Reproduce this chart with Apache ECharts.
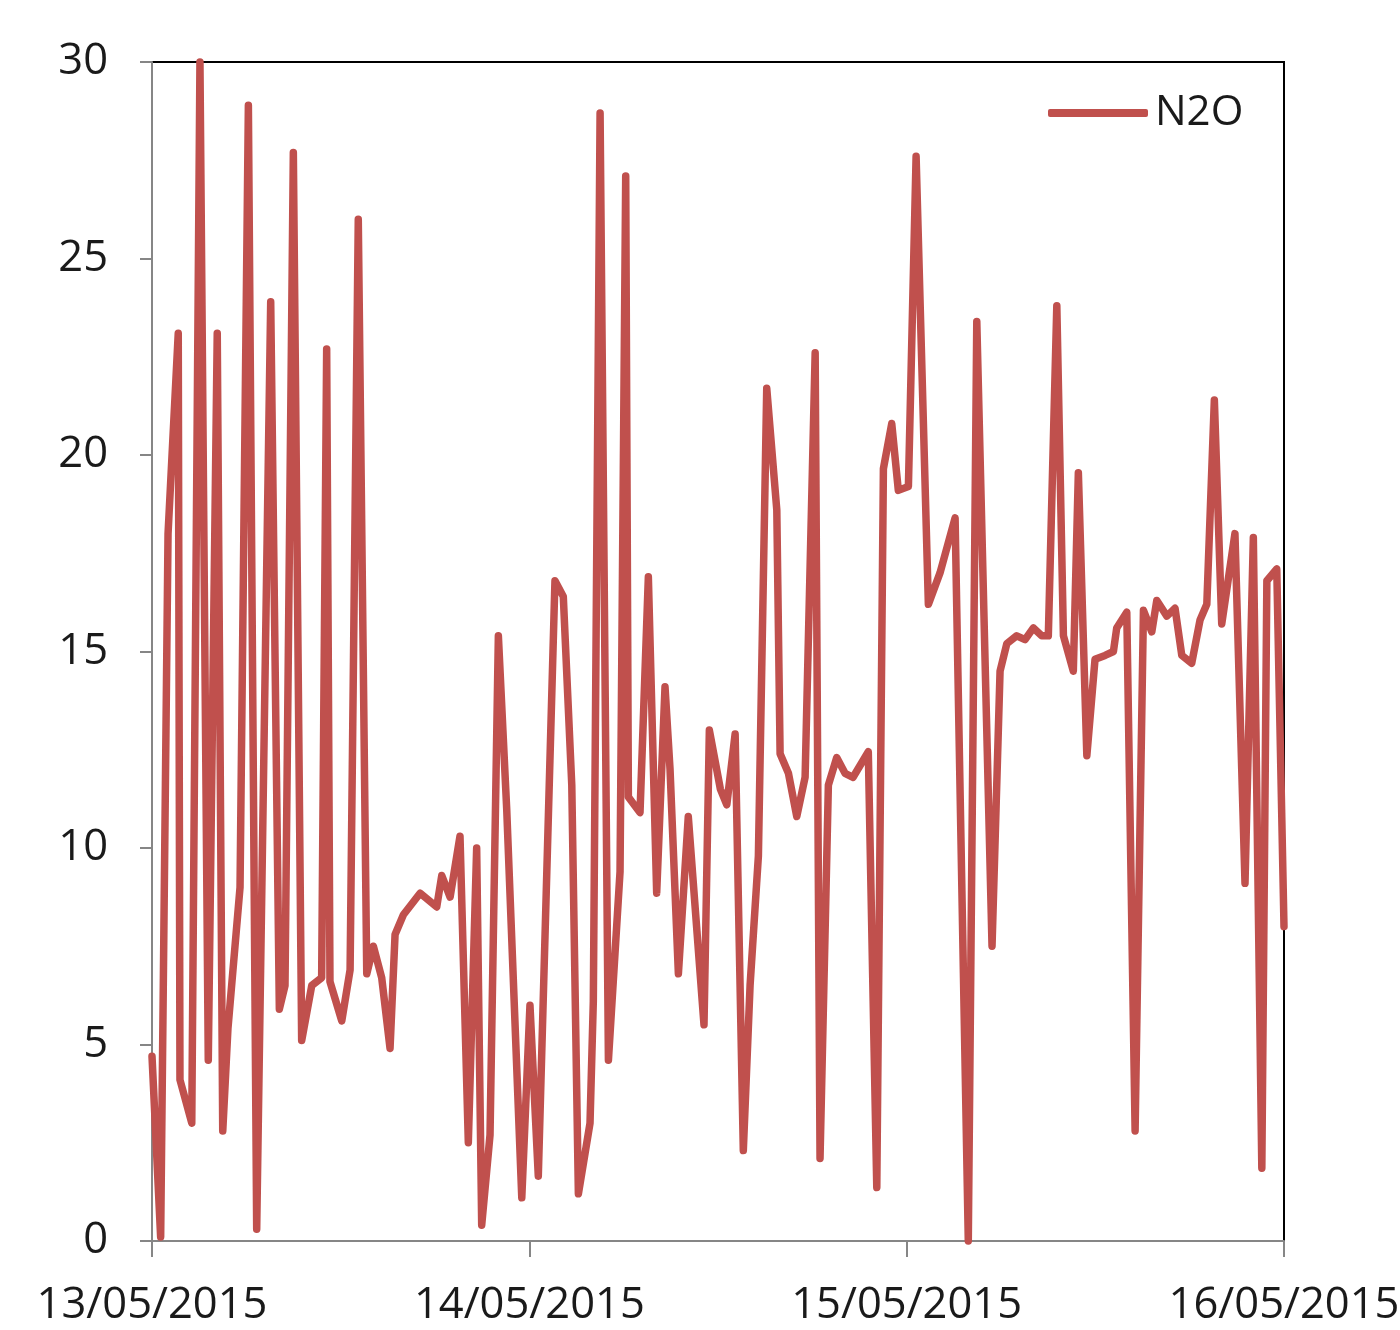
<!DOCTYPE html>
<html>
<head>
<meta charset="utf-8">
<script src="https://cdn.jsdelivr.net/npm/echarts@6/dist/echarts.min.js"></script>
<style>
  html, body { margin: 0; padding: 0; background: #ffffff; }
  #chart { width: 1400px; height: 1330px; }
</style>
</head>
<body>
<div id="chart"></div>
<script>
// N2O readings, 13/05/2015 to 16/05/2015
// Time of each reading, in hours since 13/05/2015 00:00
const hours = [
  0, 0.55, 1.02, 1.67, 1.78, 2.53, 3.05, 3.58, 4.15, 4.50,
  4.83, 5.60, 6.13, 6.66, 7.55, 8.10, 8.46, 8.99, 9.52, 10.16,
  10.79, 11.11, 11.32, 12.07, 12.60, 13.12, 13.66, 14.08, 14.61, 15.14,
  15.46, 15.99, 17.05, 18.11, 18.43, 18.96, 19.59, 20.12, 20.65, 20.97,
  21.50, 22.03, 22.56, 23.52, 24.04, 24.57, 25.63, 26.16, 26.70, 27.12,
  27.86, 28.07, 28.50, 29.03, 29.77, 30.13, 30.30, 31.04, 31.57, 32.10,
  32.63, 32.95, 33.48, 34.11, 35.11, 35.45, 36.15, 36.56, 37.09, 37.61,
  38.04, 38.57, 39.10, 39.74, 39.95, 40.48, 41.01, 41.54, 42.18, 42.49,
  43.02, 43.55, 44.08, 44.59, 45.56, 46.10, 46.52, 47.05, 47.47, 48.11,
  48.60, 49.38, 50.12, 51.08, 51.92, 52.46, 53.43, 53.94, 54.37, 55.00,
  55.53, 56.06, 56.59, 57.01, 57.55, 57.97, 58.60, 58.92, 59.46, 59.98,
  60.62, 61.15, 61.36, 62.00, 62.53, 63.06, 63.59, 63.91, 64.55, 65.07,
  65.50, 66.13, 66.66, 67.09, 67.57, 68.04, 68.88, 69.52, 70.05, 70.59,
  70.91, 71.54, 72.0
];

// N2O values
const n2o = [
  4.7, 0.1, 18.0, 23.1, 4.1, 3.0, 30.0, 4.6, 23.1, 2.8,
  5.4, 9.0, 28.9, 0.3, 23.9, 5.9, 6.5, 27.7, 5.1, 6.5,
  6.7, 22.7, 6.6, 5.6, 6.9, 26.0, 6.8, 7.5, 6.7, 4.9,
  7.8, 8.3, 8.85, 8.5, 9.3, 8.75, 10.3, 2.5, 10.0, 0.4,
  2.7, 15.4, 11.0, 1.1, 6.0, 1.65, 16.8, 16.4, 11.6, 1.2,
  3.0, 6.1, 28.7, 4.6, 9.4, 27.1, 11.3, 10.9, 16.9, 8.85,
  14.1, 12.0, 6.8, 10.8, 5.5, 13.0, 11.5, 11.1, 12.9, 2.3,
  6.5, 9.8, 21.7, 18.6, 12.4, 11.9, 10.8, 11.8, 22.6, 2.1,
  11.6, 12.3, 11.9, 11.8, 12.45, 1.36, 19.65, 20.8, 19.1, 19.2,
  27.6, 16.2, 17.0, 18.4, 0, 23.4, 7.5, 14.5, 15.2, 15.4,
  15.3, 15.6, 15.4, 15.4, 23.8, 15.4, 14.5, 19.55, 12.35, 14.8,
  14.9, 15.0, 15.6, 16.0, 2.8, 16.05, 15.5, 16.3, 15.9, 16.1,
  14.9, 14.7, 15.8, 16.2, 21.4, 15.7, 18.0, 9.1, 17.9, 1.85,
  16.8, 17.1, 8.0
];

// Date labels for the day ticks (every 24 h)
const dayLabels = ['13/05/2015', '14/05/2015', '15/05/2015', '16/05/2015'];

const seriesName = 'N2O';
const lineColor = '#C0504D';
const axisGrey = '#868686';
const textColor = '#1a1a1a';
const fontFamily = '"Open Sans", "Liberation Sans", sans-serif';

const points = hours.map((h, i) => [h, n2o[i]]);

const chart = echarts.init(document.getElementById('chart'), null, { renderer: 'canvas' });

chart.setOption({
  animation: false,
  backgroundColor: '#ffffff',
  grid: {
    left: 152,
    right: 116,
    top: 62,
    bottom: 89,
    outerBoundsMode: 'none',
    containLabel: false,
    show: true,
    borderColor: '#000000',
    borderWidth: 2,
    backgroundColor: 'transparent'
  },
  legend: {
    left: 1048,
    top: 92,
    padding: 0,
    icon: 'roundRect',
    itemWidth: 100,
    itemHeight: 8,
    itemGap: 0,
    itemStyle: { color: lineColor, borderWidth: 0 },
    textStyle: {
      fontFamily: fontFamily,
      fontSize: 42,
      color: textColor,
      padding: [0, 0, 0, 2]
    },
    data: [seriesName]
  },
  xAxis: {
    type: 'value',
    min: 0,
    max: 72,
    interval: 24,
    axisLine: { show: true, lineStyle: { color: axisGrey, width: 2 } },
    axisTick: { show: true, inside: false, length: 16, lineStyle: { color: axisGrey, width: 2 } },
    splitLine: { show: false },
    axisLabel: {
      show: true,
      margin: 43,
      color: textColor,
      fontFamily: fontFamily,
      fontSize: 43.5,
      showMinLabel: true,
      showMaxLabel: true,
      hideOverlap: false,
      formatter: function (v) { return dayLabels[Math.round(v / 24)] || ''; }
    }
  },
  yAxis: {
    type: 'value',
    min: 0,
    max: 30,
    interval: 5,
    axisLine: { show: true, lineStyle: { color: axisGrey, width: 2 } },
    axisTick: { show: true, inside: false, length: 12, lineStyle: { color: axisGrey, width: 2 } },
    splitLine: { show: false },
    axisLabel: {
      margin: 44,
      color: textColor,
      fontFamily: fontFamily,
      fontSize: 43.5
    }
  },
  series: [{
    name: seriesName,
    type: 'line',
    data: points,
    symbol: 'none',
    clip: false,
    lineStyle: { color: lineColor, width: 7.5, join: 'round', cap: 'round' },
    itemStyle: { color: lineColor }
  }]
});
</script>
</body>
</html>
